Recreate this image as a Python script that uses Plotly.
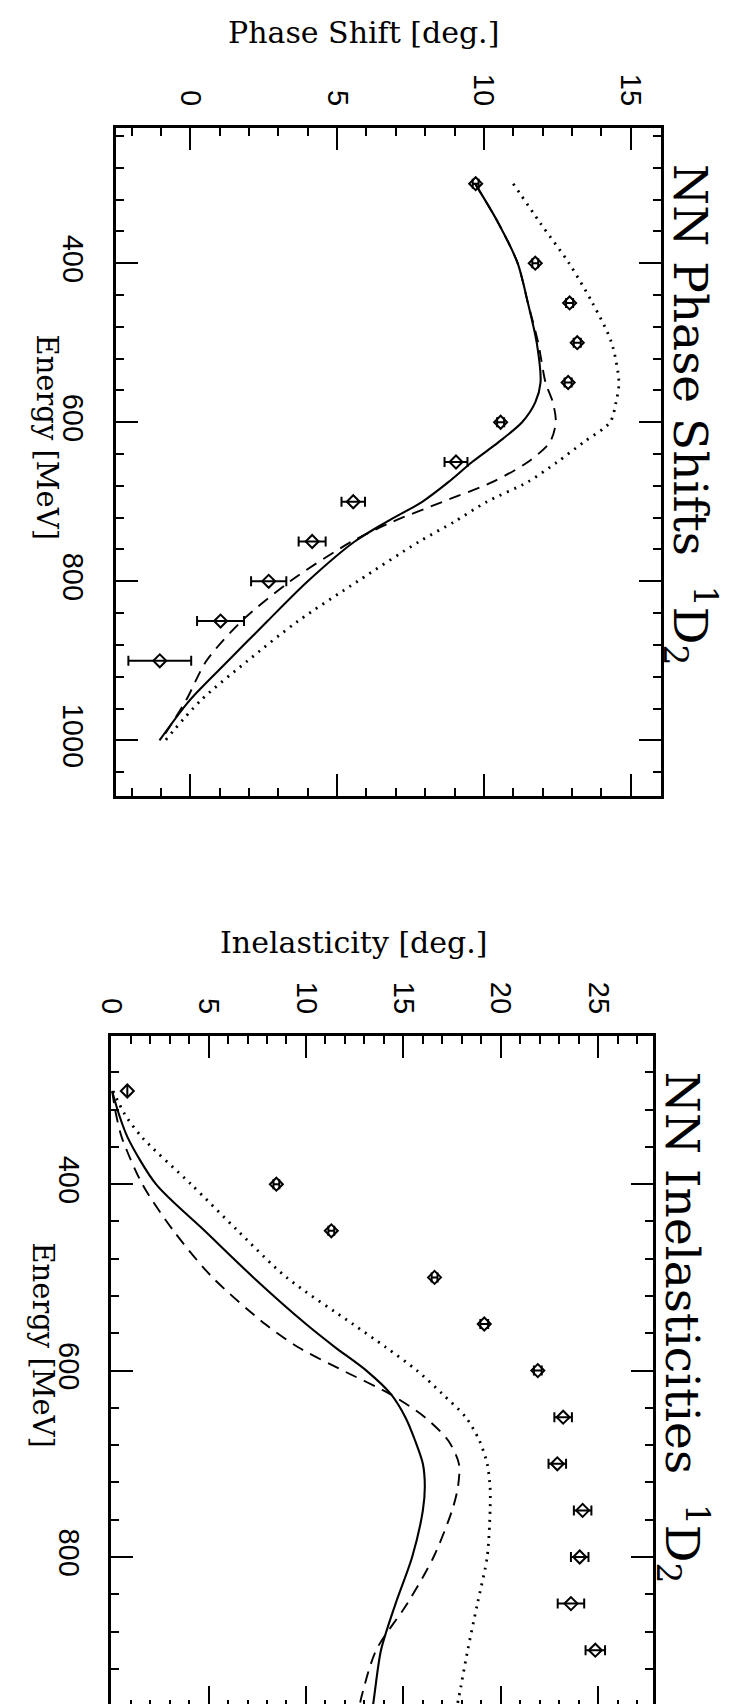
import plotly.graph_objects as go

W, H = 729, 1704

# ---------------- Panel 1 : NN phase shifts 1D2 ----------------
ps_energy = [300, 400, 450, 500, 550, 600, 650, 700, 750, 800, 850, 900]
ps_value = [9.72, 11.75, 12.92, 13.18, 12.87, 10.57, 9.05, 5.55, 4.15, 2.67, 1.03, -1.04]
ps_error = [0.1, 0.1, 0.12, 0.12, 0.12, 0.12, 0.39, 0.4, 0.46, 0.6, 0.8, 1.07]

ps_curve_energy = [300, 350, 400, 450, 500, 550, 575, 600, 625, 650, 675, 700,
                   725, 750, 800, 850, 900, 950, 1000]
ps_solid = [9.7, 10.5, 11.15, 11.5, 11.8, 11.93, 11.75, 11.3, 10.5, 9.6, 8.8, 7.9,
            6.7, 5.6, 4.0, 2.63, 1.29, -0.03, -1.05]
ps_dashed = [9.7, 10.5, 11.15, 11.5, 11.85, 12.1, 12.35, 12.45, 12.25, 11.5, 10.3, 8.6,
             6.9, 5.5, 3.4, 1.75, 0.55, -0.15, -1.0]
ps_dotted = [11.0, 11.93, 12.9, 13.7, 14.35, 14.6, 14.5, 14.3, 13.4, 12.5, 11.5, 10.1,
             9.0, 7.8, 5.7, 3.67, 1.95, 0.35, -0.85]

# ---------------- Panel 2 : NN inelasticities 1D2 ----------------
ie_energy = [300, 400, 450, 500, 550, 600, 650, 700, 750, 800, 850, 900]
ie_value = [0.83, 8.48, 11.3, 16.6, 19.15, 21.9, 23.2, 22.9, 24.2, 24.05, 23.6, 24.85]
ie_error = [0.0, 0.15, 0.15, 0.15, 0.2, 0.2, 0.45, 0.45, 0.45, 0.45, 0.68, 0.5]

ie_curve_energy = [300, 325, 350, 400, 450, 500, 550, 575, 600, 625, 650, 675, 700,
                   725, 750, 800, 850, 900, 950, 965]
ie_solid = [0.05, 0.4, 0.85, 2.3, 4.8, 7.3, 10.0, 11.5, 13.1, 14.35, 15.1, 15.6, 16.0,
            16.1, 16.0, 15.45, 14.6, 13.85, 13.5, 13.4]
ie_dashed = [0.05, 0.25, 0.55, 1.6, 3.2, 5.2, 7.9, 9.6, 11.9, 14.3, 16.1, 17.3, 17.85,
             17.8, 17.5, 16.55, 15.2, 13.6, 12.85, 12.7]
ie_dotted = [0.1, 0.7, 1.6, 4.1, 6.5, 9.0, 12.4, 14.1, 15.7, 17.0, 18.2, 18.9, 19.3,
             19.45, 19.45, 19.3, 18.8, 18.3, 17.85, 17.7]

SERIF = "DejaVu Serif"
SANS = "Liberation Sans"

fig = go.Figure()


def add_panel(xa, ya, cE, solid, dashed, dotted, dE, dV, dErr):
    fig.add_trace(go.Scatter(x=dotted, y=cE, mode="lines", xaxis=xa, yaxis=ya,
                             line=dict(color="black", width=2.8, dash="2px,6px",
                                       shape="spline", smoothing=0.8),
                             showlegend=False))
    fig.add_trace(go.Scatter(x=dashed, y=cE, mode="lines", xaxis=xa, yaxis=ya,
                             line=dict(color="black", width=1.9, dash="12px,8px",
                                       shape="spline", smoothing=0.8),
                             showlegend=False))
    fig.add_trace(go.Scatter(x=solid, y=cE, mode="lines", xaxis=xa, yaxis=ya,
                             line=dict(color="black", width=2.1, shape="spline",
                                       smoothing=0.8),
                             showlegend=False))
    fig.add_trace(go.Scatter(x=dV, y=dE, mode="markers", xaxis=xa, yaxis=ya,
                             marker=dict(symbol="diamond-open", size=10, color="black",
                                         line=dict(width=2, color="black")),
                             error_x=dict(type="data", array=dErr, visible=True,
                                          color="black", thickness=2, width=5),
                             showlegend=False))


add_panel("x", "y", ps_curve_energy, ps_solid, ps_dashed, ps_dotted,
          ps_energy, ps_value, ps_error)
add_panel("x2", "y2", ie_curve_energy, ie_solid, ie_dashed, ie_dotted,
          ie_energy, ie_value, ie_error)

common = dict(showgrid=False, zeroline=False, showline=True, linecolor="black",
              linewidth=2.5, mirror="allticks", ticks="inside", ticklen=22,
              tickwidth=2, tickcolor="black", tickangle=90,
              tickfont=dict(family=SANS, size=29, color="black"))


def px_x(p):
    return p / W


def px_y(p):
    return 1 - p / H


fig.update_layout(
    width=W, height=H, margin=dict(l=0, r=0, t=0, b=0),
    paper_bgcolor="white", plot_bgcolor="white",
    xaxis=dict(domain=[px_x(95), px_x(651)], anchor="y", side="top",
               range=[-2.53, 16.02], tick0=0, dtick=5, ticklabelstandoff=9,
               minor=dict(dtick=1, tick0=0, ticks="inside", ticklen=8, tickwidth=2,
                          tickcolor="black"), **common),
    yaxis=dict(domain=[px_y(788), px_y(120)], anchor="x", side="left",
               range=[1070, 230], tick0=0, dtick=200, ticklabelstandoff=15,
               minor=dict(dtick=40, tick0=0, ticks="inside", ticklen=8, tickwidth=2,
                          tickcolor="black"), **common),
    xaxis2=dict(domain=[px_x(90), px_x(643)], anchor="y2", side="top",
                range=[0, 27.8], tick0=0, dtick=5, ticklabelstandoff=9,
                minor=dict(dtick=1, tick0=0, ticks="inside", ticklen=8, tickwidth=2,
                           tickcolor="black"), **common),
    yaxis2=dict(domain=[px_y(1700), px_y(1028)], anchor="x2", side="left",
                range=[962, 241], tick0=0, dtick=200, ticklabelstandoff=15,
                minor=dict(dtick=40, tick0=0, ticks="inside", ticklen=8, tickwidth=2,
                           tickcolor="black"), **common),
)

annos = [
    dict(text="Phase Shift [deg.]", x=px_x(348), y=px_y(25), textangle=0,
         font=dict(family=SERIF, size=30)),
    dict(text="Energy [MeV]", x=px_x(24), y=px_y(429), textangle=90,
         font=dict(family=SERIF, size=29)),
    dict(text="NN Phase Shifts  <sup>1</sup>D<sub>2</sub>", x=px_x(682), y=px_y(407),
         textangle=90, font=dict(family=SERIF, size=47)),
    dict(text="Inelasticity [deg.]", x=px_x(338), y=px_y(935), textangle=0,
         font=dict(family=SERIF, size=30)),
    dict(text="Energy [MeV]", x=px_x(20), y=px_y(1337), textangle=90,
         font=dict(family=SERIF, size=29)),
    dict(text="NN Inelasticities  <sup>1</sup>D<sub>2</sub>", x=px_x(674), y=px_y(1320),
         textangle=90, font=dict(family=SERIF, size=47)),
]
for a in annos:
    a.update(xref="paper", yref="paper", showarrow=False, xanchor="center",
             yanchor="middle")
    a["font"]["color"] = "black"
    fig.add_annotation(**a)

fig.write_html("out.html")
